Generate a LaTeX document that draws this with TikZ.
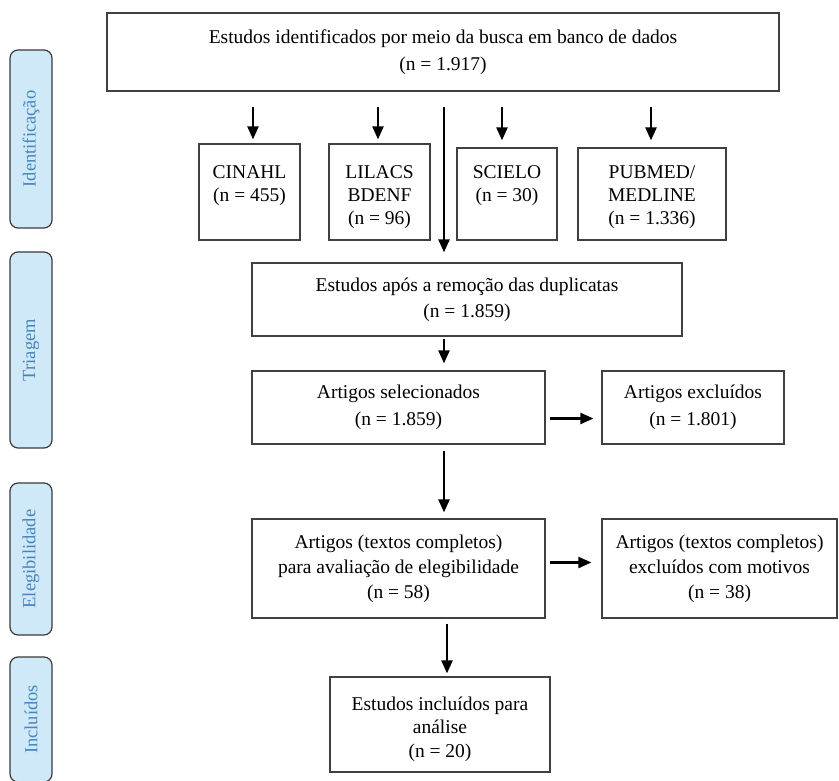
\documentclass[tikz,border=0pt]{standalone}
\usepackage{fontspec}
\setmainfont{Liberation Serif}
\usetikzlibrary{arrows.meta}
\definecolor{sidefill}{HTML}{D0E9F9}
\definecolor{sidetext}{HTML}{4785BC}
\definecolor{sidedraw}{HTML}{3A3A3A}
\begin{document}
\begin{tikzpicture}[x=1pt,y=-1pt,
  box/.style={draw=black!75, line width=1.2pt, inner sep=0pt, align=center,
    font=\fontsize{19.5}{25}\selectfont},
  srcbox/.style={draw=black!75, line width=1.2pt, inner sep=0pt},
  srctext/.style={inner sep=0pt, align=center, font=\fontsize{19.5}{23}\selectfont},
  side/.style={draw=sidedraw, fill=sidefill, line width=1.2pt, rounded corners=8pt,
    rotate=90, minimum height=42pt, inner sep=0pt, text=sidetext,
    font=\fontsize{18.5}{20}\selectfont},
  arr/.style={line width=2.3pt, -{Triangle[length=13pt,width=11pt]}}]
\clip (0,0) rectangle (839,781);
\fill[white] (0,0) rectangle (839,781);

% side labels
\node[side, minimum width=178pt] (sid) at (31,139) {Identificação};
\node[side, minimum width=196pt] (str) at (31,350) {Triagem};
\node[side, minimum width=152pt] (sel2) at (31,559) {Elegibilidade};
\node[side, minimum width=125pt] (sinc) at (31,719.5) {Incluídos};

% boxes
\node[box, font=\fontsize{19.5}{27}\selectfont, minimum width=672pt, minimum height=78pt] (top) at (443,52)
  {Estudos identificados por meio da busca em banco de dados\\(n = 1.917)};
\node[srcbox, minimum width=101pt, minimum height=96pt] (cin) at (249.5,192) {};
\node[srctext] (cinT) at (249.5,185.5) {CINAHL\\(n = 455)};
\node[srcbox, minimum width=101pt, minimum height=96pt] (lil) at (379.5,192) {};
\node[srctext] (lilT) at (379.5,197) {LILACS\\BDENF\\(n = 96)};
\node[srcbox, minimum width=100pt, minimum height=92pt] (sci) at (507,194) {};
\node[srctext] (sciT) at (507,185.5) {SCIELO\\(n = 30)};
\node[srcbox, minimum width=148pt, minimum height=92pt] (pub) at (652,194) {};
\node[srctext] (pubT) at (652,197) {PUBMED/\\MEDLINE\\(n = 1.336)};
\node[box, font=\fontsize{19.5}{26}\selectfont, minimum width=430pt, minimum height=73pt] (dup) at (467,299.5)
  {Estudos após a remoção das duplicatas\\(n = 1.859)};
\node[box, font=\fontsize{19.5}{27}\selectfont, minimum width=293pt, minimum height=73pt] (sel) at (398.5,407.5)
  {Artigos selecionados\\(n = 1.859)};
\node[box, font=\fontsize{19.5}{27}\selectfont, minimum width=182pt, minimum height=73pt] (exc) at (693,407.5)
  {Artigos excluídos\\(n = 1.801)};
\node[box, minimum width=293pt, minimum height=99pt] (eli) at (398.5,568.5)
  {Artigos (textos completos)\\para avaliação de elegibilidade\\(n = 58)};
\node[box, minimum width=235pt, minimum height=99pt] (excf) at (719.5,568.5)
  {Artigos (textos completos)\\excluídos com motivos\\(n = 38)};
\node[srcbox, minimum width=220pt, minimum height=95pt] (inc) at (440,724.5) {};
\node[srctext, font=\fontsize{19.5}{23.5}\selectfont] (incT) at (440,729) {Estudos incluídos para\\análise\\(n = 20)};

% arrows
\coordinate (t0) at (0,107);
\coordinate (mx) at (444,0);
\coordinate (ix) at (447,0);
\draw[arr, shorten >=4pt] (t0 -| 253,0) -- (cin.north -| 253,0);
\draw[arr, shorten >=4pt] (t0 -| 378,0) -- (lil.north -| 378,0);
\draw[arr, shorten >=7pt] (t0 -| 502,0) -- (sci.north -| 502,0);
\draw[arr, shorten >=7pt] (t0 -| 651,0) -- (pub.north -| 651,0);
\draw[arr, shorten >=10pt] (t0 -| mx) -- (dup.north -| mx);
\draw[arr, shorten <=2pt, shorten >=7pt] (dup.south -| mx) -- (sel.north -| mx);
\draw[arr, shorten <=6pt, shorten >=6pt] (sel.south -| mx) -- (eli.north -| mx);
\draw[arr, shorten <=5pt, shorten >=3pt] (eli.south -| ix) -- (inc.north -| ix);
\draw[arr, shorten <=4pt, shorten >=8pt] ([yshift=-11pt]sel.east) -- ([yshift=-11pt]sel.east -| exc.west);
\draw[arr, shorten <=4pt, shorten >=10pt] ([yshift=6pt]eli.east) -- ([yshift=6pt]eli.east -| excf.west);
\end{tikzpicture}
\end{document}
